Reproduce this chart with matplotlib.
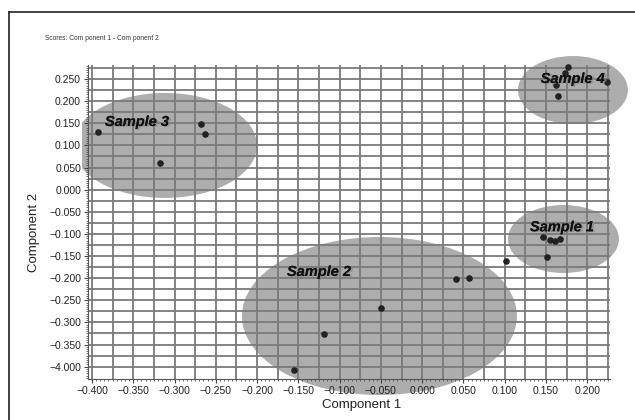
import numpy as np
import matplotlib
matplotlib.use("Agg")
import matplotlib.pyplot as plt
from matplotlib.patches import Ellipse, Rectangle
from matplotlib.lines import Line2D
from matplotlib.ticker import MultipleLocator
import matplotlib.patheffects as pe

plt.rcParams['font.family'] = ['Liberation Sans', 'DejaVu Sans']

# score points per sample (component 1, component 2)
s1_x = [0.1459, 0.1544, 0.1604, 0.1665, 0.1507, 0.1018]
s1_y = [-0.1077, -0.1138, -0.1167, -0.1108, -0.1528, -0.1605]
s2_x = [0.0405, 0.0563, -0.0496, -0.1186, -0.1550]
s2_y = [-0.2012, -0.1996, -0.2667, -0.3254, -0.4075]
s3_x = [-0.3931, -0.3176, -0.2676, -0.2635]
s3_y = [0.1296, 0.0602, 0.1483, 0.1264]
s4_x = [0.1769, 0.1729, 0.1617, 0.1648, 0.2242]
s4_y = [0.2778, 0.2642, 0.2358, 0.2109, 0.2432]

# group ellipses: name, centre x, centre y, width, height
groups = ['Sample 1', 'Sample 2', 'Sample 3', 'Sample 4']
ell_cx = [0.1711, -0.0518, -0.3116, 0.1826]
ell_cy = [-0.1115, -0.2855, 0.0998, 0.2251]
ell_w = [0.1344, 0.3331, 0.2229, 0.1332]
ell_h = [0.1536, 0.3570, 0.2372, 0.1536]
label_x = [0.1305, -0.1638, -0.3843, 0.1435]
label_y = [-0.0850, -0.1860, 0.1528, 0.2500]

x_ticks = [-0.4, -0.35, -0.3, -0.25, -0.2, -0.15, -0.1, -0.05, 0.0, 0.05, 0.1, 0.15, 0.2]
x_tick_labels = ['\u22120.400', '\u22120.350', '\u22120.300', '\u22120.250', '\u22120.200',
                 '\u22120.150', '\u22120.100', '\u22120.050', '0.000', '0.050', '0.100',
                 '0.150', '0.200']
y_ticks = [0.25, 0.2, 0.15, 0.1, 0.05, 0.0, -0.05, -0.1, -0.15, -0.2, -0.25, -0.3, -0.35, -0.4]
y_tick_labels = ['0.250', '0.200', '0.150', '0.100', '0.050', '0.000', '\u22120.050',
                 '\u22120.100', '\u22120.150', '\u22120.200', '\u22120.250', '\u22120.300',
                 '\u22120.350', '\u22124.000']

fig = plt.figure(figsize=(6.35, 4.2), dpi=100)
ax = fig.add_axes([88/635, 41/420, 522/635, 314/420])
ax.set_xlim(-0.4048, 0.2275)
ax.set_ylim(-0.4278, 0.2816)
ax.set_axisbelow(True)

# grid every 0.025
for gx in np.arange(-0.4, 0.2276, 0.025):
    ax.axvline(gx, color='#7a7a7a', lw=1.3, zorder=0.6)
for gy in np.arange(-0.4, 0.2816, 0.025):
    ax.axhline(gy, color='#7a7a7a', lw=1.3, zorder=0.6)

clip = Rectangle((-0.4121, -0.6), 1.0, 1.2, transform=ax.transData)
for i, g in enumerate(groups):
    e = Ellipse((ell_cx[i], ell_cy[i]), ell_w[i], ell_h[i],
                facecolor='#adadad', edgecolor='none', zorder=0.3, clip_on=False)
    ax.add_patch(e)
    if g == 'Sample 3':
        e.set_clip_on(True)
        e.set_clip_path(clip)
    ax.text(label_x[i], label_y[i], g, fontsize=10.5, fontweight='bold', style='italic',
            color='#111111', va='center', ha='left', zorder=3,
            path_effects=[pe.withSimplePatchShadow(offset=(1.5, -0.5), shadow_rgbFace='#888888', alpha=0.8),
                          pe.Normal()])

for xs, ys in [(s1_x, s1_y), (s2_x, s2_y), (s3_x, s3_y), (s4_x, s4_y)]:
    ax.scatter(xs, ys, s=14, color='#222222', zorder=2, clip_on=False)

ax.set_xticks(x_ticks, x_tick_labels)
ax.set_yticks(y_ticks, y_tick_labels)
ax.xaxis.set_minor_locator(MultipleLocator(0.005))
ax.yaxis.set_minor_locator(MultipleLocator(0.005))
ax.tick_params(which='major', length=3, width=0.8, color='#444444', labelsize=7.5,
               labelcolor='#222222', pad=2)
ax.tick_params(which='minor', length=1.5, width=0.6, color='#555555')
for s in ['top', 'right']:
    ax.spines[s].set_visible(False)
for s in ['left', 'bottom']:
    ax.spines[s].set_color('#555555')
    ax.spines[s].set_linewidth(0.8)

fig.text(45/635, 1 - 39/420, 'Scores: Com ponent 1 - Com ponent 2', fontsize=4.8,
         color='#333333', va='center', ha='left')
fig.text(34/635, 1 - 232/420, 'Component 2', fontsize=9.5, rotation=90,
         va='center', ha='center', color='#222222')
fig.text(362/635, 1 - 405/420, 'Component 1', fontsize=9.5,
         va='center', ha='center', color='#222222')

# outer frame
fig.add_artist(Line2D([9/635, 1], [1 - 12/420, 1 - 12/420], color='#222222', lw=1.2))
fig.add_artist(Line2D([9/635, 9/635], [0, 1 - 12/420], color='#222222', lw=1.2))

fig.savefig('out.png', dpi=100)
